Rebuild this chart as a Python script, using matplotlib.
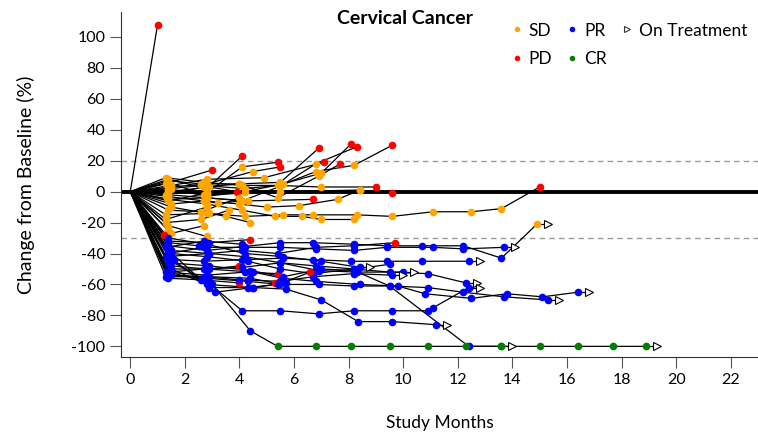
import matplotlib
matplotlib.use("Agg")
import matplotlib.pyplot as plt
from matplotlib.lines import Line2D

plt.rcParams["font.family"] = ["Lato", "DejaVu Sans"]
plt.rcParams["axes.unicode_minus"] = False

# one entry per patient: study months, % change from baseline,
# response at each assessment ("-" baseline, S=SD, P=PD, R=PR, C=CR)
pt_months = [
    [0, 1.0],
    [0, 1.3, 3.0],
    [0, 1.4, 2.8, 4.1],
    [0, 1.4, 2.7, 4.1, 5.4],
    [0, 1.5, 2.8, 4.5, 5.5],
    [0, 1.3, 2.7, 4.0, 5.5, 6.9],
    [0, 1.4, 2.8, 4.2, 5.6, 7.0, 8.1],
    [0, 1.4, 2.8, 4.1, 5.5, 6.8, 8.3],
    [0, 1.5, 2.8, 4.9, 7.1],
    [0, 1.4, 2.6, 4.0, 5.4, 6.9, 7.7],
    [0, 1.3, 2.7, 4.1, 5.5, 6.8, 8.2, 9.6],
    [0, 1.5, 2.6, 4.2, 5.4, 7.0, 9.0],
    [0, 1.4, 2.8, 5.5, 8.4, 9.6],
    [0, 1.4, 2.9, 3.9],
    [0, 1.4, 2.8, 4.3, 6.7],
    [0, 1.3, 2.7, 4.0, 5.0, 6.2, 7.6, 8.4],
    [0, 1.4, 2.8, 4.1, 5.3, 6.3, 7.0, 8.2],
    [0, 1.5, 2.8, 4.2, 5.6, 6.7, 8.3, 9.6, 11.1, 12.5, 13.6, 15.0],
    [0, 1.3, 2.9, 3.5, 4.4],
    [0, 1.4, 2.8],
    [0, 1.5, 2.7, 3.2, 4.1],
    [0, 1.4, 2.6, 4.0],
    [0, 1.3, 2.8],
    [0, 1.4],
    [0, 1.5, 2.7],
    [0, 1.25],
    [0, 1.4, 2.8],
    [0, 1.3, 2.6, 3.6],
    [0, 1.4, 2.9, 4.4],
    [0, 1.4, 2.8, 5.5, 6.7, 8.2, 9.4, 10.7, 12.2, 13.6, 14.9],
    [0, 1.5, 2.9, 4.1, 5.4, 6.8, 8.2, 9.7],
    [0, 1.4, 2.7, 4.2, 5.5, 6.8, 8.2, 9.4, 11.1, 12.2, 13.7],
    [0, 1.6, 2.7, 4.1, 5.6, 6.7, 8.1, 9.4, 10.7, 12.4],
    [0, 1.5, 2.9, 4.0],
    [0, 1.3, 2.8, 4.2, 5.4],
    [0, 1.4, 2.7, 4.1, 5.5, 6.8, 8.2, 9.5, 10.9, 12.3],
    [0, 1.4, 2.6, 4.0],
    [0, 1.5, 2.9, 4.4, 5.3],
    [0, 1.3, 2.7, 4.0, 5.5, 6.7, 8.2, 9.6],
    [0, 1.4, 2.8, 4.3, 5.5, 6.9, 8.2, 9.5, 10.9, 12.2, 13.7, 15.3],
    [0, 1.5, 2.8, 4.5, 5.6, 6.8, 8.4, 9.8, 10.8, 12.5, 13.8, 15.1, 16.4],
    [0, 1.4, 2.9, 4.4, 5.6, 7.0, 8.2, 9.5, 12.4, 13.6],
    [0, 1.5, 3.0, 4.4, 5.4, 6.8, 8.1, 9.5, 10.9, 12.3, 13.6, 15.0, 16.4, 17.7, 18.9],
    [0, 1.4, 2.8, 4.1, 5.5, 6.9, 8.2, 9.6, 10.9, 11.1, 12.4],
    [0, 1.5, 2.8, 4.5, 5.7, 7.0, 8.35, 9.6, 11.2],
    [0, 1.4, 2.8, 4.2, 5.6, 7.0, 8.4],
    [0, 1.3, 2.9, 4.2, 5.5, 6.9, 8.3, 10.0],
    [0, 1.4, 2.5, 2.8],
    [0, 1.3, 2.7, 4.1],
    [0, 1.5, 2.8, 4.3, 5.5, 6.7, 8.2, 9.5],
    [0, 1.4, 2.9, 4.3, 5.4, 6.6],
    [0, 1.5, 3.1, 4.5, 5.7],
]
pt_change = [
    [0, 108],
    [0, 5, 14],
    [0, 8, 2, 23],
    [0, 6, -2, 16, 19],
    [0, 3, 5, 13, 16],
    [0, -2, 3, 5, 6, 28],
    [0, 2, -3, 0, 5, 12, 31],
    [0, -5, -4, -6, 3.5, 18, 29],
    [0, 4, 8, 9, 19],
    [0, 7, 5, 5, -4, 10, 18],
    [0, 9, 6, 4, 4, 13, 17, 30],
    [0, 2, 4, 2, 4, 3, 3],
    [0, 1, -2, 0, 1, -1],
    [0, 0, 3, 0],
    [0, -2, -4, -6, -5],
    [0, -3, -6, -8, -10, -9, -5, 1],
    [0, -5, -8, -12, -16, -16, -18, -18],
    [0, -10, -14, -16, -15, -15, -15, -16, -13, -13, -11, 3],
    [0, -15, -14, -16, -20],
    [0, -22, -29],
    [0, -8, -6, -7.5, -6],
    [0, -12, -13, -4],
    [0, -18, -10],
    [0, -25],
    [0, -27, -22],
    [0, -28],
    [0, -6, -1],
    [0, -20, -18, -12],
    [0, -32, -33, -31],
    [0, -35, -38, -33, -33, -34, -35, -35, -35, -43, -21],
    [0, -38, -40, -38, -40, -36, -35, -33],
    [0, -40, -36, -36, -36, -37, -38, -36, -36, -37, -36],
    [0, -44, -45, -44, -43, -44, -45, -45, -45, -45],
    [0, -50, -50, -48],
    [0, -52, -54, -52, -53],
    [0, -52, -50, -49, -46, -48, -50, -52, -53, -59],
    [0, -56, -57, -59],
    [0, -54, -55, -56, -59],
    [0, -55, -55, -57, -58, -55, -53, -54],
    [0, -54, -56, -58, -60, -60, -61, -61, -62, -65, -68, -70],
    [0, -48, -50, -52, -56, -58, -60, -61, -66, -69, -66, -68, -65],
    [0, -46, -48, -51, -55, -50, -51, -61, -100, -100],
    [0, -45, -60, -90, -100, -100, -100, -100, -100, -100, -100, -100, -100, -100, -100],
    [0, -52, -58, -77, -77, -79, -77, -77, -77, -75, -62],
    [0, -50, -60, -62, -63, -70, -84, -84, -86],
    [0, -30, -34, -40, -42, -45, -49],
    [0, -42, -40, -42, -46, -51, -52, -52],
    [0, -33, -35, -33],
    [0, -36, -32, -34],
    [0, -40, -42, -45, -50, -53, -50, -47],
    [0, -38, -62, -62, -60, -52],
    [0, -43, -65, -62, -59],
]
pt_response = [
    "-P", "-SP", "-SSP", "-SSSP", "-SSSP", "-SSSSP", "-SSSSSP", "-SSSSSP",
    "-SSSP", "-SSSSSP", "-SSSSSSP", "-SSSSSP", "-SSSSP", "-SSP", "-SSSP",
    "-SSSSSSS", "-SSSSSSS", "-SSSSSSSSSSP", "-SSSS", "-SS", "-SSSS", "-SSS",
    "-SS", "-S", "-SS", "-P", "-SS", "-SSS",
    "-RRP", "-RRRRRRRRRS", "-RRRRRRP", "-RRRRRRRRRR", "-RRRRRRRRR", "-RRP",
    "-RRRP", "-RRRRRRRRR", "-RRP", "-RRRP", "-RRRRRRR", "-RRRRRRRRRRR",
    "-RRRRRRRRRRRR", "-RRRRRRRRC", "-RRRCCCCCCCCCCC", "-RRRRRRRRRR",
    "-RRRRRRRR", "-RRRRRR", "-RRRRRRR", "-RRR", "-RRR", "-RRRRRRR",
    "-RRRRP", "-RRRR",
]
on_treatment = [29, 31, 32, 35, 38, 39, 40, 41, 42, 43, 44, 45, 46]

resp_colors = {"S": "#FFA500", "P": "#FF0000", "R": "#0000FF", "C": "#008000"}

fig = plt.figure(figsize=(7.58, 4.34), dpi=100)
ax = fig.add_axes([0.16, 0.177, 0.84, 0.795])

ax.axhline(20, color="#9a9a9a", lw=1, dashes=(4, 3), zorder=1)
ax.axhline(-30, color="#9a9a9a", lw=1, dashes=(4, 3), zorder=1)
ax.axhline(0, color="black", lw=2.8, zorder=1)

for i, (mo, ch, rs) in enumerate(zip(pt_months, pt_change, pt_response)):
    ax.plot(mo, ch, color="black", lw=0.9, zorder=2)
    for m, c, r in zip(mo, ch, rs):
        if r == "-":
            continue
        ax.plot(m, c, "o", ms=5.5, color=resp_colors[r], mec="none", zorder=3)
    if i in on_treatment:
        ax.plot([mo[-1], mo[-1] + 0.35], [ch[-1], ch[-1]], color="black", lw=0.9, zorder=2)
        ax.plot(mo[-1] + 0.4, ch[-1], ">", ms=6, mfc="white", mec="black", mew=0.8, zorder=4)

ax.set_xlim(-0.33, 23.0)
ax.set_ylim(-107, 116)
ax.set_xticks(range(0, 23, 2))
ax.set_yticks(range(-100, 101, 20))
for s in ["top", "right"]:
    ax.spines[s].set_visible(False)
for s in ["left", "bottom"]:
    ax.spines[s].set_color("#333333")
ax.tick_params(direction="out", length=8, width=0.8, color="#555555", labelsize=11.5)
ax.set_xlabel("Study Months", fontsize=12.5, labelpad=20)
ax.set_ylabel("Change from Baseline (%)", fontsize=14, labelpad=26)

fig.text(0.534, 0.958, "Cervical Cancer", fontsize=14, fontweight="bold", ha="center", va="center")

handles = [
    Line2D([], [], ls="none", marker="o", ms=4, color=resp_colors["S"], mec="none"),
    Line2D([], [], ls="none", marker="o", ms=4, color=resp_colors["P"], mec="none"),
    Line2D([], [], ls="none", marker="o", ms=4, color=resp_colors["R"], mec="none"),
    Line2D([], [], ls="none", marker="o", ms=4, color=resp_colors["C"], mec="none"),
    Line2D([], [], ls="none", marker=">", ms=4, mfc="white", mec="#333333", mew=0.8),
]
ax.legend(handles, ["SD", "PD", "PR", "CR", "On Treatment"], ncol=3, frameon=False,
          loc="upper right", bbox_to_anchor=(1.0, 1.0), fontsize=12.5,
          handlelength=0.8, handletextpad=0.3, columnspacing=0.75, labelspacing=0.7,
          borderaxespad=0.2)

fig.savefig("out.png", dpi=100)
